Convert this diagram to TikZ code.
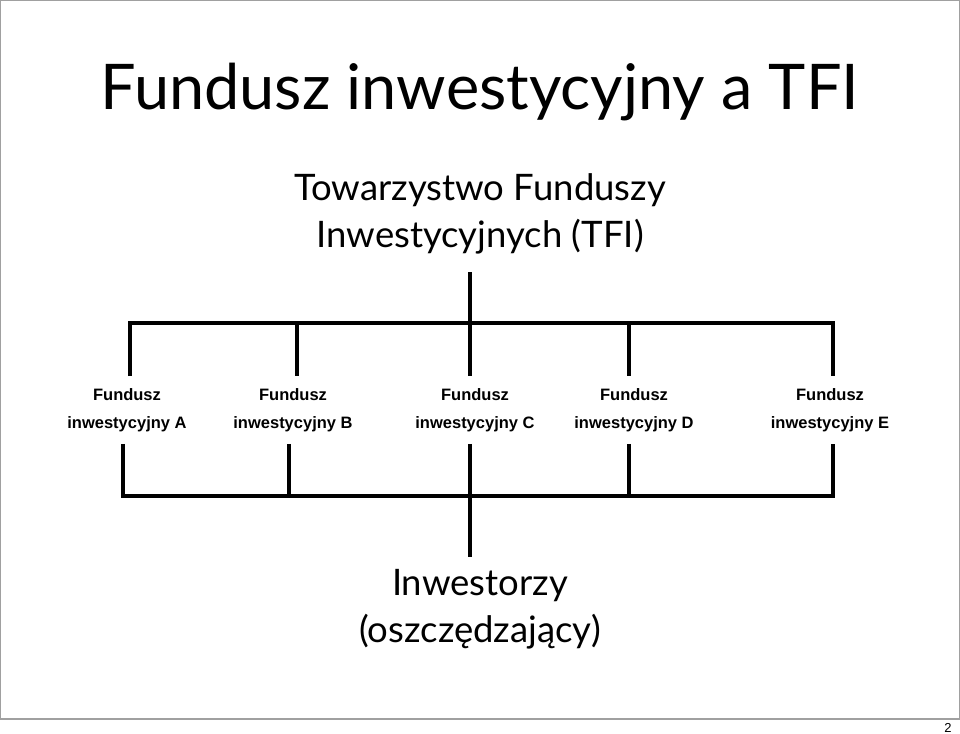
\documentclass[tikz,border=0pt]{standalone}
\usepackage{fontspec}
\setmainfont{Lato}
\newfontfamily\arialfont{Liberation Sans}
\usetikzlibrary{positioning}
\definecolor{cframe}{RGB}{160,160,160}

\tikzset{
  conn/.style={draw=black,line width=3.2pt,line cap=butt,line join=miter},
  headtext/.style={font=\fontsize{36.5}{47}\selectfont,align=center,inner sep=0pt},
  fund/.style={font=\arialfont\bfseries\fontsize{16.5}{28}\selectfont,align=center,inner sep=12pt}
}

\begin{document}
\begin{tikzpicture}[x=1pt,y=-1pt]
  \useasboundingbox (0,0) rectangle (960,733);
  % slide frame and page number
  \path[draw=cframe,line width=1.2pt] (0.6,0.6) rectangle (959.4,719);
  \node[font=\arialfont\fontsize{13}{15}\selectfont,anchor=base east] (pageno) at (955,732) {2};

  % title
  \node[font=\fontsize{63}{76}\selectfont,anchor=base,inner sep=0pt] (title) at (480,110) {Fundusz inwestycyjny a TFI};

  % company
  \node[headtext,anchor=base] (tfi) at (480,247) {Towarzystwo Funduszy\\Inwestycyjnych (TFI)};

  % funds
  \node[fund] (fa) at (127,410) {Fundusz\\inwestycyjny A};
  \node[fund] (fb) at (293,410) {Fundusz\\inwestycyjny B};
  \node[fund] (fc) at (475,410) {Fundusz\\inwestycyjny C};
  \node[fund] (fd) at (634,410) {Fundusz\\inwestycyjny D};
  \node[fund] (fe) at (830,410) {Fundusz\\inwestycyjny E};

  % investors
  \node[headtext,anchor=base] (inv) at (480,642) {Inwestorzy\\(oszczędzający)};

  % upper bus
  \coordinate (ua) at (130,323);
  \coordinate (ub) at (297,323);
  \coordinate (uc) at (470,323);
  \coordinate (ud) at (629,323);
  \coordinate (ue) at (833,323);
  \coordinate (utop) at (470,272);
  \path[conn] (utop) -- (uc);
  \path[conn] (fa.north -| ua) -- (ua) -- (ue) -- (fe.north -| ue);
  \path[conn] (ub) -- (fb.north -| ub);
  \path[conn] (uc) -- (fc.north -| uc);
  \path[conn] (ud) -- (fd.north -| ud);

  % lower bus
  \coordinate (la) at (123,496);
  \coordinate (lb) at (289,496);
  \coordinate (lc) at (470,496);
  \coordinate (ld) at (629,496);
  \coordinate (le) at (833,496);
  \coordinate (lbot) at (470,557);
  \path[conn] (fa.south -| la) -- (la) -- (le) -- (fe.south -| le);
  \path[conn] (fb.south -| lb) -- (lb);
  \path[conn] (fc.south -| lc) -- (lc);
  \path[conn] (fd.south -| ld) -- (ld);
  \path[conn] (lc) -- (lbot);
\end{tikzpicture}
\end{document}
